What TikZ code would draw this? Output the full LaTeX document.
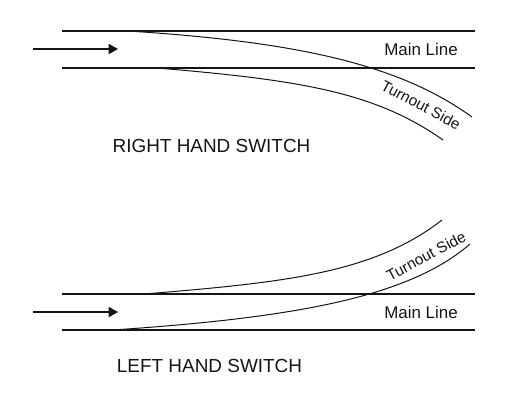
\documentclass[tikz,border=0pt]{standalone}
\usepackage{fontspec}
\setmainfont{Liberation Sans}
\usepackage{tikz}
\usetikzlibrary{
  arrows.meta,
  positioning
}
\definecolor{InkBlack}{RGB}{20,20,20}
\tikzset{
  railline/.style={draw=InkBlack,line width=1.5pt},
  turnout/.style={draw=InkBlack,line width=0.75pt},
  dirarrow/.style={-{Triangle[length=7pt,width=7.5pt]},draw=InkBlack,line width=1.3pt},
  linelabel/.style={inner sep=0pt,text=InkBlack,font=\fontsize{12.7}{14}\selectfont},
  sidelabel/.style={inner sep=0pt,text=InkBlack,font=\fontsize{11.5}{13}\selectfont},
  switchlabel/.style={inner sep=0pt,text=InkBlack,font=\fontsize{14.2}{16}\selectfont}
}

\begin{document}
\begin{tikzpicture}[x=0.75pt,y=-0.75pt]
\useasboundingbox (0,0) rectangle (507,405);

% right hand switch
\coordinate (rtl) at (62,31);
\coordinate (rtr) at (475,31);
\coordinate (rbl) at (62,68);
\coordinate (rbr) at (475,68);
\coordinate (ra) at (33,49);
\coordinate (rb) at (118,49);
\coordinate (rc1) at (128,31);
\coordinate (rc2) at (472,117);
\coordinate (rd1) at (157,68);
\coordinate (rd2) at (443,140);
\draw[railline] (rtl) -- (rtr);
\draw[railline] (rbl) -- (rbr);
\draw[dirarrow] (ra) -- (rb);
\draw[turnout] (rc1) .. controls (300,42) and (400,65) .. (rc2);
\draw[turnout] (rd1) .. controls (300,80) and (375,92) .. (rd2);
\node[linelabel] (rmain) at (421,49.5) {Main Line};
\node[sidelabel,rotate=-28] (rside) at (421,105) {Turnout Side};
\node[switchlabel] (rname) at (211.5,146) {RIGHT HAND SWITCH};

% left hand switch
\coordinate (ltl) at (62,293.5);
\coordinate (ltr) at (475,293.5);
\coordinate (lbl) at (62,329.5);
\coordinate (lbr) at (475,329.5);
\coordinate (la) at (33,312);
\coordinate (lb) at (118,312);
\coordinate (lc1) at (120,329.5);
\coordinate (lc2) at (470,244);
\coordinate (ld1) at (150,293.5);
\coordinate (ld2) at (442,220);
\draw[railline] (ltl) -- (ltr);
\draw[railline] (lbl) -- (lbr);
\draw[dirarrow] (la) -- (lb);
\draw[turnout] (lc1) .. controls (300,317) and (410,296) .. (lc2);
\draw[turnout] (ld1) .. controls (290,282) and (375,272) .. (ld2);
\node[linelabel] (lmain) at (421,312) {Main Line};
\node[sidelabel,rotate=28] (lside) at (426,256) {Turnout Side};
\node[switchlabel] (lname) at (209.5,366) {LEFT HAND SWITCH};
\end{tikzpicture}
\end{document}
